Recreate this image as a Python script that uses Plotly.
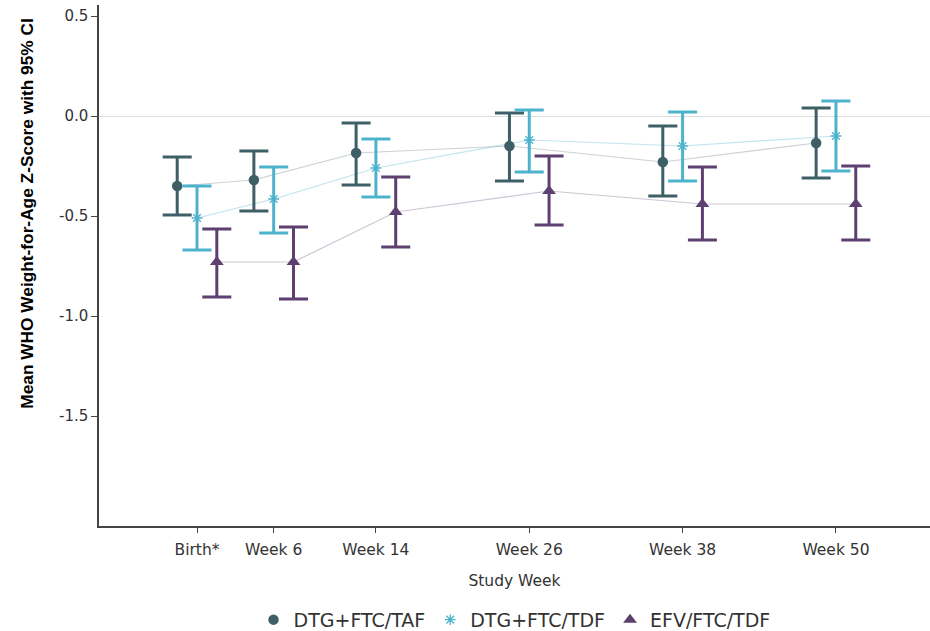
import plotly.graph_objects as go

visits = ["Birth*", "Week 6", "Week 14", "Week 26", "Week 38", "Week 50"]
weeks = [0, 6, 14, 26, 38, 50]

taf_mean = [-0.35, -0.32, -0.185, -0.15, -0.23, -0.135]
taf_lo = [-0.495, -0.475, -0.345, -0.325, -0.40, -0.31]
taf_hi = [-0.205, -0.175, -0.035, 0.015, -0.05, 0.04]

tdf_mean = [-0.51, -0.415, -0.26, -0.12, -0.15, -0.10]
tdf_lo = [-0.67, -0.585, -0.405, -0.28, -0.325, -0.275]
tdf_hi = [-0.35, -0.255, -0.115, 0.03, 0.02, 0.075]

efv_mean = [-0.73, -0.73, -0.48, -0.375, -0.44, -0.44]
efv_lo = [-0.905, -0.915, -0.655, -0.545, -0.62, -0.62]
efv_hi = [-0.565, -0.555, -0.305, -0.20, -0.255, -0.25]

series = [
    ("DTG+FTC/TAF", taf_mean, taf_lo, taf_hi, -1.55, "#3F5F67", "rgba(63,95,103,0.28)", "circle", 10.5),
    ("DTG+FTC/TDF", tdf_mean, tdf_lo, tdf_hi, 0.0, "#4DB3CD", "rgba(77,179,205,0.35)", "asterisk-open", 9),
    ("EFV/FTC/TDF", efv_mean, efv_lo, efv_hi, 1.55, "#5D3F70", "rgba(93,63,112,0.3)", "triangle-up", 12),
]

FONT = "DejaVu Sans, Verdana, sans-serif"

fig = go.Figure()
for name, m, lo, hi, off, col, lcol, sym, sz in series:
    xs = [w + off for w in weeks]
    fig.add_trace(go.Scatter(x=xs, y=m, mode="lines", line=dict(color=lcol, width=1.2),
                             showlegend=False, hoverinfo="skip"))
for name, m, lo, hi, off, col, lcol, sym, sz in series:
    xs = [w + off for w in weeks]
    fig.add_trace(go.Scatter(
        x=xs, y=m, mode="markers", name=name,
        marker=dict(symbol=sym, color=col, size=sz,
                    line=dict(color=col, width=1.3 if sym == "asterisk-open" else 0)),
        error_y=dict(type="data", symmetric=False,
                     array=[h - v for h, v in zip(hi, m)],
                     arrayminus=[v - l for v, l in zip(m, lo)],
                     color=col, thickness=3, width=14.5),
    ))

fig.update_layout(
    width=930, height=631,
    margin=dict(l=99, r=0, t=5, b=105, autoexpand=False),
    plot_bgcolor="white", paper_bgcolor="white",
    font=dict(family=FONT, color="#333", size=15),
    xaxis=dict(range=[-7.67, 57.36], tickvals=weeks, ticktext=visits, showgrid=False,
               zeroline=False, showline=True, linecolor="#444", linewidth=1.5,
               ticks="outside", ticklen=5, tickcolor="#444", ticklabelstandoff=4,
               tickfont=dict(size=15.5, family=FONT, color="#333"),
               title=dict(text="Study Week", font=dict(size=15.5, family=FONT, color="#333"), standoff=17)),
    yaxis=dict(range=[-2.05, 0.555], tickvals=[0.5, 0.0, -0.5, -1.0, -1.5],
               ticktext=["0.5", "0.0", "-0.5", "-1.0", "-1.5"], showgrid=False,
               zeroline=True, zerolinecolor="#dddddd", zerolinewidth=1,
               showline=True, linecolor="#444", linewidth=1.5,
               ticks="outside", ticklen=6, tickcolor="#444",
               tickfont=dict(size=15, family=FONT, color="#333")),
    legend=dict(orientation="h", x=0.5, xanchor="center", y=-0.18, yanchor="middle",
                font=dict(size=19, family=FONT, color="#333"),
                itemwidth=30),
    annotations=[dict(text="<b>Mean WHO Weight-for-Age Z-Score with 95% CI</b>",
                      xref="paper", yref="paper", x=-0.087, xanchor="center",
                      y=1 - (214 - 5) / 521.0, yanchor="middle",
                      textangle=-90, showarrow=False,
                      font=dict(family="Liberation Sans, Arial, sans-serif", size=17.3, color="#000"))],
)

fig.write_html("out.html", config={"displayModeBar": False},
               post_script="document.body.style.margin='0';document.body.style.overflow='hidden';")
